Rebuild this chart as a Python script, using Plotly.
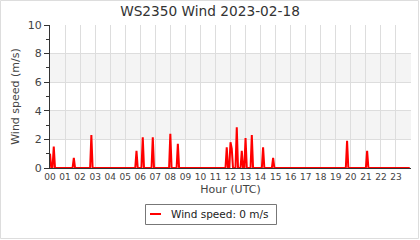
import plotly.graph_objects as go

# ---- data ----
sample_step_min = 5
spike_times = ["00:00", "00:15", "01:35", "02:45", "05:45", "06:10", "06:50",
               "08:00", "08:30", "11:45", "12:00", "12:05", "12:25", "12:45",
               "13:00", "13:25", "14:10", "14:50", "19:45", "21:05"]
spike_values = [1.0, 1.5, 0.7, 2.3, 1.2, 2.15, 2.15,
                2.4, 1.7, 1.45, 1.8, 1.35, 2.85, 1.2,
                2.1, 2.3, 1.45, 0.7, 1.9, 1.2]
hour_ticks = list(range(24))
hour_labels = [f"{h:02d}" for h in hour_ticks]
y_ticks = [0, 2, 4, 6, 8, 10]
band_ranges = [(2, 4), (6, 8)]

minutes = list(range(0, 24 * 60, sample_step_min))
speed = {m: 0.0 for m in minutes}
for t, v in zip(spike_times, spike_values):
    hh, mm = map(int, t.split(":"))
    speed[hh * 60 + mm] = v
x_hours = [m / 60 for m in minutes]
y_speed = [speed[m] for m in minutes]

# ---- layout geometry ----
W, H = 420, 240
L, R, T, B = 50, 9, 25, 72
PW, PH = W - L - R, H - T - B

def px_x(px):
    return (px - L) / PW

def px_y(py):
    return (H - B - py) / PH

FONT = "DejaVu Sans"

fig = go.Figure()
fig.add_trace(go.Scatter(x=x_hours, y=y_speed, mode="lines",
                         line=dict(color="#ff0000", width=2),
                         name="Wind speed", showlegend=False,
                         hoverinfo="skip"))

shapes = []
for y0, y1 in band_ranges:
    shapes.append(dict(type="rect", xref="paper", yref="y", x0=0, x1=1,
                       y0=y0, y1=y1, fillcolor="#f4f4f4", line=dict(width=0),
                       layer="between"))
# outer border
shapes.append(dict(type="rect", xref="paper", yref="paper",
                   x0=px_x(0.5), x1=px_x(418.5), y0=px_y(238.5), y1=px_y(0.5),
                   line=dict(color="#dddddd", width=1), fillcolor="rgba(0,0,0,0)"))
# legend box
shapes.append(dict(type="rect", xref="paper", yref="paper",
                   x0=px_x(145.5), x1=px_x(276.5), y0=px_y(224.5), y1=px_y(204.5),
                   line=dict(color="#777777", width=1), fillcolor="white"))
shapes.append(dict(type="line", xref="paper", yref="paper",
                   x0=px_x(150), x1=px_x(161), y0=px_y(214), y1=px_y(214),
                   line=dict(color="#ff0000", width=2)))

annotations = [dict(text="Wind speed: 0 m/s", xref="paper", yref="paper",
                    x=px_x(169), y=px_y(214), xanchor="left", yanchor="middle",
                    showarrow=False, font=dict(family=FONT, size=10.5, color="#222"))]

fig.update_layout(
    width=W, height=H,
    margin=dict(l=L, r=R, t=T, b=B, pad=0),
    paper_bgcolor="white", plot_bgcolor="white",
    font=dict(family=FONT, color="#444"),
    title=dict(text="WS2350 Wind 2023-02-18", x=0.5, xref="container",
               y=1 - 11 / H, yref="container", xanchor="center", yanchor="middle",
               font=dict(family=FONT, size=13.7, color="#333")),
    showlegend=False,
    shapes=shapes,
    annotations=annotations,
    xaxis=dict(range=[0, 24], tickvals=hour_ticks, ticktext=hour_labels,
               tickfont=dict(size=9, color="#444"), showgrid=True,
               gridcolor="#dddddd", gridwidth=1, showline=True,
               linecolor="#333", linewidth=1, ticks="", zeroline=False,
               title=dict(text="Hour (UTC)", font=dict(size=11, color="#444"),
                          standoff=4)),
    yaxis=dict(range=[0, 10], tickvals=y_ticks, tickfont=dict(size=11, color="#444"),
               showgrid=True, gridcolor="#dddddd", gridwidth=1, showline=True,
               linecolor="#333", linewidth=1, ticks="outside", ticklen=5,
               tickcolor="#333", zeroline=False,
               minor=dict(dtick=1, ticks="outside", ticklen=3, tickcolor="#333",
                          showgrid=False),
               title=dict(text="Wind speed (m/s)", font=dict(size=11, color="#444"),
                          standoff=5)),
)

fig.write_html("out.html")
